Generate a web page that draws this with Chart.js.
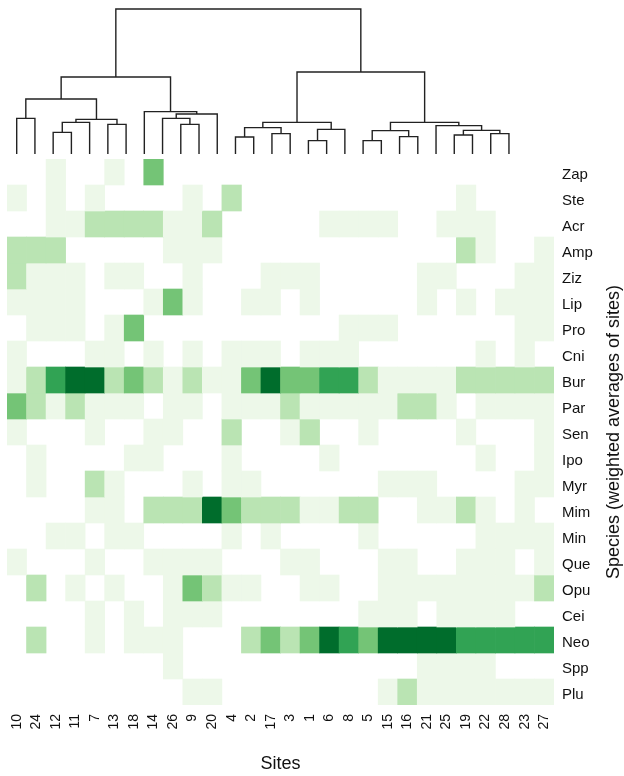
<!DOCTYPE html>
<html>
<head>
<meta charset="utf-8">
<script src="https://cdn.jsdelivr.net/npm/chart.js@4.4.1/dist/chart.umd.min.js"></script>
<style>
html,body{margin:0;padding:0;background:#fff;}
#wrap{position:relative;width:624px;height:776px;overflow:hidden;}
#wrap canvas{position:absolute;left:0;top:0;}
</style>
</head>
<body>
<div id="wrap">
<canvas id="heat" width="624" height="776"></canvas>
<canvas id="dend" width="624" height="160"></canvas>
</div>
<script>
// ---- categories (dendrogram order) ----
const sites = ['10','24','12','11','7','13','18','14','26','9','20','4','2','17','3','1','6','8','5','15','16','21','25','19','22','28','23','27'];
const species = ['Zap','Ste','Acr','Amp','Ziz','Lip','Pro','Cni','Bur','Par','Sen','Ipo','Myr','Mim','Min','Que','Opu','Cei','Neo','Spp','Plu'];

// ---- abundance class per site (0 = absent ... 5 = highest) ----
const rowZap = [0,0,1,0,0,1,0,3,0,0,0,0,0,0,0,0,0,0,0,0,0,0,0,0,0,0,0,0];
const rowSte = [1,0,1,0,1,0,0,0,0,1,0,2,0,0,0,0,0,0,0,0,0,0,0,1,0,0,0,0];
const rowAcr = [0,0,1,1,2,2,2,2,1,1,2,0,0,0,0,0,1,1,1,1,0,0,1,1,1,0,0,0];
const rowAmp = [2,2,2,0,0,0,0,0,1,1,1,0,0,0,0,0,0,0,0,0,0,0,0,2,1,0,0,1];
const rowZiz = [2,1,1,1,0,1,1,0,0,1,0,0,0,1,1,1,0,0,0,0,0,1,1,0,0,0,1,1];
const rowLip = [1,1,1,1,0,0,0,1,3,1,0,0,1,1,0,1,0,0,0,0,0,1,0,1,0,1,1,1];
const rowPro = [0,1,1,1,0,1,3,0,0,0,0,0,0,0,0,0,0,1,1,1,0,0,0,0,0,0,1,1];
const rowCni = [1,0,0,0,1,1,0,1,0,1,0,1,1,1,0,1,1,1,0,0,0,0,0,0,1,0,1,0];
const rowBur = [1,2,4,5,5,2,3,2,1,2,1,1,3,5,3,3,4,4,2,1,1,1,1,2,2,2,2,2];
const rowPar = [3,2,1,2,1,1,1,0,1,1,0,1,1,1,2,1,1,1,1,1,2,2,1,0,1,1,1,1];
const rowSen = [1,0,0,0,1,0,0,1,1,0,0,2,0,0,1,2,0,0,1,0,0,0,0,1,0,0,0,1];
const rowIpo = [0,1,0,0,0,0,1,1,0,0,0,1,0,0,0,0,1,0,0,0,0,0,0,0,1,0,0,1];
const rowMyr = [0,1,0,0,2,1,0,0,0,1,0,1,1,0,0,0,0,0,0,1,1,1,0,0,0,0,1,1];
const rowMim = [0,0,0,0,1,1,0,2,2,2,5,3,2,2,2,1,1,2,2,0,0,1,1,2,1,0,1,0];
const rowMin = [0,0,1,1,0,1,1,0,0,0,0,1,0,1,0,0,0,0,1,0,0,0,0,0,1,1,1,1];
const rowQue = [1,0,0,0,1,0,0,1,1,1,1,0,0,0,1,1,0,0,0,1,1,0,0,1,1,1,0,1];
const rowOpu = [0,2,0,1,0,1,0,0,1,3,2,1,1,0,0,1,1,0,0,1,1,1,1,1,1,1,1,2];
const rowCei = [0,0,0,0,1,0,1,0,1,1,1,0,0,0,0,0,0,0,1,1,1,0,1,1,1,1,0,0];
const rowNeo = [0,2,0,0,1,0,1,1,1,0,0,0,2,3,2,3,5,4,3,5,5,5,5,4,4,4,4,4];
const rowSpp = [0,0,0,0,0,0,0,0,1,0,0,0,0,0,0,0,0,0,0,0,0,1,1,1,1,0,0,0];
const rowPlu = [0,0,0,0,0,0,0,0,0,1,1,0,0,0,0,0,0,0,0,1,2,1,1,1,1,1,1,1];
const rows = [rowZap,rowSte,rowAcr,rowAmp,rowZiz,rowLip,rowPro,rowCni,rowBur,rowPar,rowSen,rowIpo,rowMyr,rowMim,rowMin,rowQue,rowOpu,rowCei,rowNeo,rowSpp,rowPlu];

// ---- site dendrogram (hclust style: negative = leaf position, positive = earlier merge) ----
const mergeA = [-1,-3,2,-6,3,1,-10,-9,8,-8,6,-13,-15,12,-17,15,14,-20,-22,18,-25,-27,21,-24,20,17,11];
const mergeB = [-2,-4,-5,-7,4,5,-11,7,-12,9,10,-14,-16,13,-18,-19,16,-21,-23,19,-26,-28,22,23,24,25,26];
const mergeHeight = [107,65,95,89,104,165,89,107,120,127,231,51,61,79,40,74,95,40,52,70,57,61,71,85,95,246,435];

const palette = ['rgba(255,255,255,0)','#edf8e9','#bae4b3','#74c476','#31a354','#006d2c'];
const FONT = '"Liberation Sans", Arial, Helvetica, sans-serif';

// ---- heatmap ----
const heatDatasets = species.map((sp, r) => ({
  label: sp,
  data: rows[r].map(() => [r - 0.5, r + 0.5]),
  backgroundColor: rows[r].map(v => palette[v]),
  borderWidth: 0,
  grouped: false,
  barPercentage: 1,
  categoryPercentage: 1
}));

const yTitlePlugin = {
  id: 'yTitle',
  afterDraw(chart) {
    const ctx = chart.ctx;
    const ca = chart.chartArea;
    ctx.save();
    ctx.font = '18px ' + FONT;
    ctx.fillStyle = '#111';
    ctx.textAlign = 'center';
    ctx.textBaseline = 'middle';
    ctx.translate(614, (ca.top + ca.bottom) / 2);
    ctx.rotate(-Math.PI / 2);
    ctx.fillText('Species (weighted averages of sites)', 0, 0);
    ctx.restore();
  }
};

new Chart(document.getElementById('heat'), {
  type: 'bar',
  data: { labels: sites, datasets: heatDatasets },
  options: {
    responsive: false,
    animation: false,
    layout: { padding: { left: 7, top: 159, right: 0, bottom: 0 } },
    plugins: { legend: { display: false }, tooltip: { enabled: false } },
    scales: {
      x: {
        type: 'category',
        offset: true,
        grid: { display: false, drawTicks: false },
        border: { display: false },
        ticks: { autoSkip: false, minRotation: 90, maxRotation: 90, padding: 9, color: '#111', font: { family: FONT, size: 14 } },
        title: { display: true, text: 'Sites', color: '#111', font: { family: FONT, size: 18 }, padding: { top: 0, bottom: 1 } },
        afterFit(scale) { scale.height = 71; }
      },
      y: {
        type: 'linear',
        position: 'right',
        reverse: true,
        stacked: false,
        min: -0.5,
        max: species.length - 0.5,
        grid: { display: false, drawTicks: false },
        border: { display: false },
        afterBuildTicks(scale) { scale.ticks = species.map((s, i) => ({ value: i })); },
        ticks: { padding: 8, labelOffset: 3, color: '#111', font: { family: FONT, size: 15 }, callback: v => species[v] },
        afterFit(scale) { scale.width = 70; }
      }
    }
  },
  plugins: [yTitlePlugin]
});

// ---- dendrogram ----
const nodeX = [], nodeH = [];
function childPos(c) {
  if (c < 0) return { x: -c - 1, h: 0 };
  return { x: nodeX[c - 1], h: nodeH[c - 1] };
}
const dendDatasets = [];
for (let i = 0; i < mergeHeight.length; i++) {
  const a = childPos(mergeA[i]);
  const b = childPos(mergeB[i]);
  const h = mergeHeight[i];
  nodeX.push((a.x + b.x) / 2);
  nodeH.push(h);
  dendDatasets.push({
    data: [{ x: a.x, y: a.h }, { x: a.x, y: h }, { x: b.x, y: h }, { x: b.x, y: b.h }],
    showLine: true,
    borderColor: '#222',
    borderWidth: 1.4,
    pointRadius: 0,
    tension: 0,
    fill: false
  });
}

new Chart(document.getElementById('dend'), {
  type: 'scatter',
  data: { datasets: dendDatasets },
  options: {
    responsive: false,
    animation: false,
    layout: { padding: 0 },
    plugins: { legend: { display: false }, tooltip: { enabled: false } },
    scales: {
      x: { type: 'linear', display: false, min: -0.916, max: 33.31 },
      y: { type: 'linear', display: false, min: -18, max: 462 }
    }
  }
});
</script>
</body>
</html>
